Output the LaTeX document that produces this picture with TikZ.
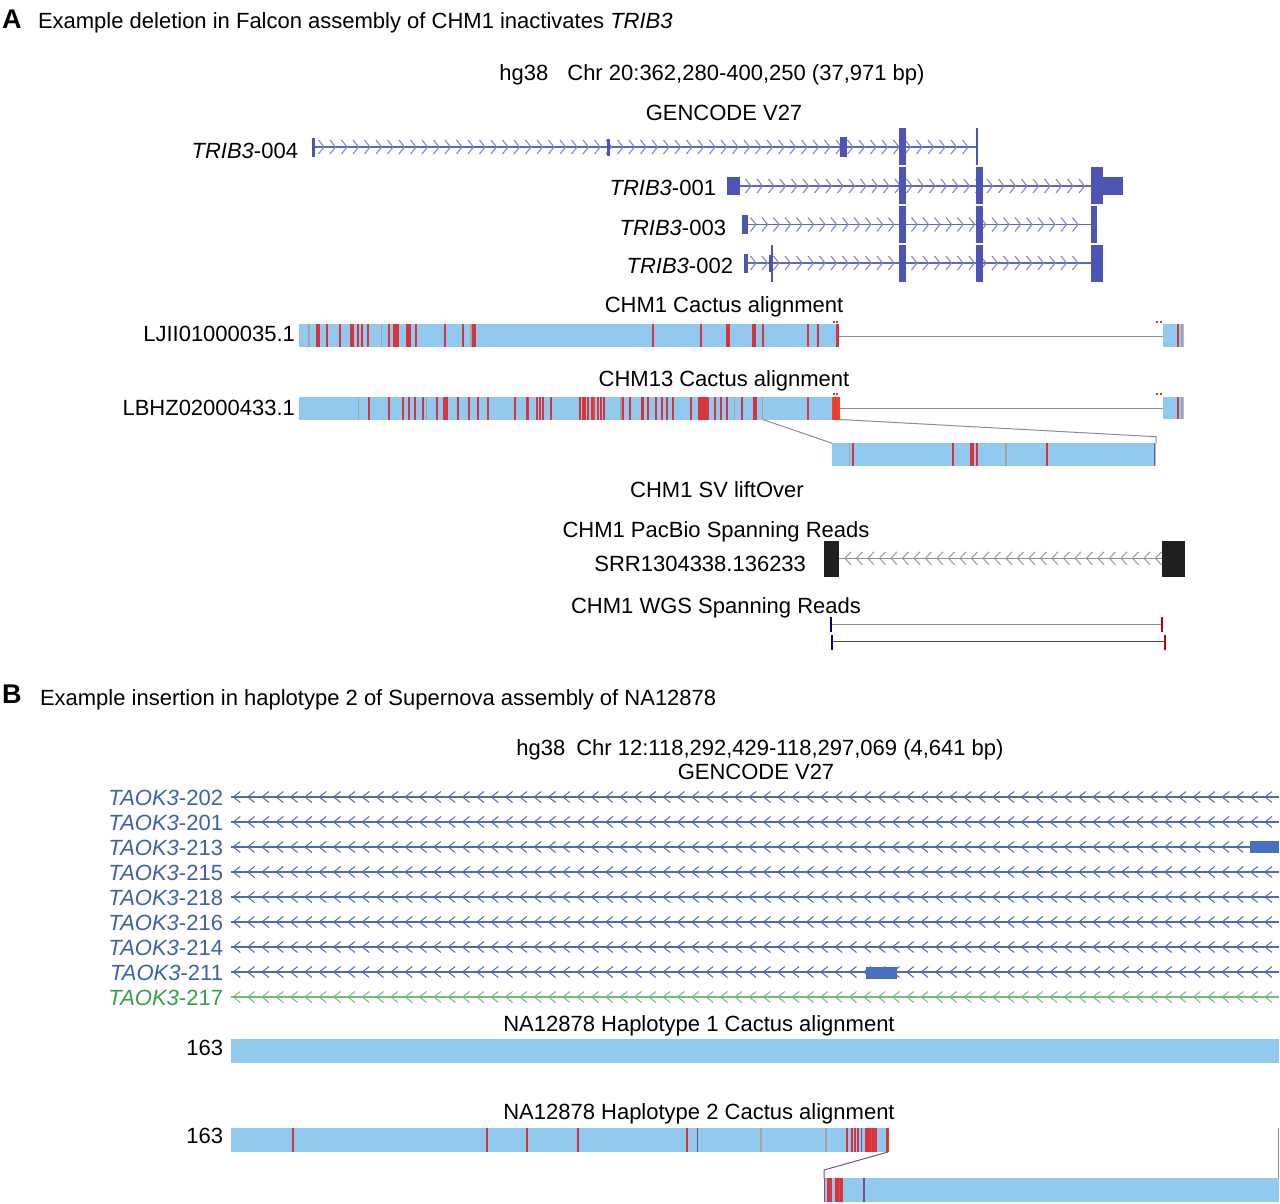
\documentclass[tikz,border=0pt]{standalone}
\usepackage{fontspec}
\setmainfont{Liberation Sans}
\definecolor{exA}{HTML}{4C55B3}
\definecolor{lnA}{HTML}{5F67BA}
\definecolor{chA}{HTML}{7F86C9}
\definecolor{txB}{HTML}{3D62AA}
\definecolor{lnB}{HTML}{4B6CB2}
\definecolor{exB}{HTML}{4670C0}
\definecolor{grB}{HTML}{33A04A}
\definecolor{grL}{HTML}{6DBE78}
\definecolor{barc}{HTML}{92C9EE}
\definecolor{redl}{HTML}{D8343F}
\definecolor{grayl}{HTML}{A8A0A0}
\definecolor{orl}{HTML}{F04028}
\definecolor{purl}{HTML}{7A4F8A}
\definecolor{conn}{HTML}{8C8C8C}
% y, x-first-tip, x-last, spacing, arm offset (+ : ">" , - : "<"), half height, style
\newcommand\chevrow[7]{%
  \pgfmathtruncatemacro\nchev{floor((#3-#2)/#4)}%
  \foreach \ii in {0,...,\nchev}{%
    \pgfmathsetmacro\cxa{#2+\ii*#4}%
    \pgfmathsetmacro\cxb{\cxa-(#5)}%
    \draw[#7] (\cxb,#1-#6) -- (\cxa,#1) -- (\cxb,#1+#6);
  }}
\begin{document}
\begin{tikzpicture}[x=1pt,y=-1pt,
  every node/.style={font=\fontsize{22}{26}\selectfont, inner sep=0pt, outer sep=0pt},
  lbl/.style={anchor=base east},
  ttl/.style={anchor=base},
  exonA/.style={fill=exA, draw=none},
  lineA/.style={draw=lnA, line width=1.2pt},
  chevA/.style={draw=chA, line width=1.1pt},
  lineB/.style={draw=lnB, line width=1.1pt},
  chevB/.style={draw=lnB, line width=1pt},
  lineG/.style={draw=grL, line width=1.1pt},
  chevG/.style={draw=grL, line width=1pt},
  barbox/.style={fill=barc, draw=none},
  redln/.style={draw=redl, line width=2pt},
  grayln/.style={draw=grayl, line width=1.5pt},
  purln/.style={draw=purl, line width=1.5pt},
  orln/.style={draw=orl, line width=2pt},
  connln/.style={draw=conn, line width=1pt}]
\useasboundingbox (0,0) rectangle (1280,1204);

% ---------------- Panel A ----------------
\node[anchor=base west] (pA) at (2,29) {\fontsize{27}{30}\selectfont\bfseries A};
\node[anchor=base west] (tA) at (38,29) {Example deletion in Falcon assembly of CHM1 inactivates \textit{TRIB3}};
\node[ttl] (posA) at (712,81) {hg38\hspace{19pt}Chr 20:362,280-400,250 (37,971 bp)};
\node[ttl] (genA) at (724,121) {GENCODE V27};

% TRIB3-004
\node[lbl] (t004) at (298,158) {\textit{TRIB3}-004};
\draw[lineA] (313,147) -- (977,147);
\chevrow{147}{324}{972}{11.5}{5.5}{7}{chevA}
\fill[exA] (312,138) rectangle (314.5,157);
\fill[exA] (606.5,139) rectangle (609.5,156);
\fill[exA] (840,137) rectangle (846.5,157);
\fill[exA] (899,128) rectangle (906,165);
\fill[exA] (975.8,128) rectangle (978.2,165);

% TRIB3-001
\node[lbl] (t001) at (716,196) {\textit{TRIB3}-001};
\draw[lineA] (740,186) -- (1091,186);
\chevrow{186}{751}{1086}{11.5}{5.5}{7}{chevA}
\fill[exA] (727,177) rectangle (740,195);
\fill[exA] (899,167) rectangle (906,204);
\fill[exA] (976,167) rectangle (983,204);
\fill[exA] (1091,167) rectangle (1103,204);
\fill[exA] (1103,177) rectangle (1123,195);

% TRIB3-003
\node[lbl] (t003) at (726,235) {\textit{TRIB3}-003};
\draw[lineA] (747,224.5) -- (1091,224.5);
\chevrow{224.5}{756}{1086}{11.5}{5.5}{7}{chevA}
\fill[exA] (741.5,215) rectangle (747.5,234);
\fill[exA] (899,206) rectangle (906,243);
\fill[exA] (976,206) rectangle (983,243);
\fill[exA] (1091,206) rectangle (1097,243);

% TRIB3-002
\node[lbl] (t002) at (733,273) {\textit{TRIB3}-002};
\draw[lineA] (747,263) -- (1091,263);
\chevrow{263}{756}{1086}{11.5}{5.5}{7}{chevA}
\fill[exA] (743.5,254) rectangle (748,273);
\fill[exA] (768.5,255) rectangle (771,272);
\fill[exA] (771,245) rectangle (773,282);
\fill[exA] (899,245) rectangle (906,282);
\fill[exA] (976,245) rectangle (983,282);
\fill[exA] (1091,245) rectangle (1103,282);

% CHM1 Cactus alignment
\node[ttl] (c1t) at (724,312) {CHM1 Cactus alignment};
\node[lbl] (c1l) at (295,341) {LJII01000035.1};
\fill[barc] (299,324) rectangle (839,346.5);
\foreach \x in {316.7,319,326.7,340,351,353.3,357.7,362.3,368.3,389,394.3,396,398.3,406.7,408.3,410,416,445,462.7,472.7,475,653.3,701,726.7,729.3,753.3,755,763.3,808.3,818.3}
  \draw[redln] (\x,324) -- (\x,346.5);
\foreach \x in {309,381.7,471}
  \draw[grayln] (\x,324) -- (\x,346.5);
\draw[redl, line width=2.4pt] (837.6,324) -- (837.6,346.5);
\fill[redl] (832.5,320.5) rectangle (834.5,322.5);
\fill[redl] (836,320.5) rectangle (838,322.5);
\draw[connln] (839,336) -- (1162.7,336);
\fill[barc] (1162.7,324.3) rectangle (1184.3,346.7);
\draw[redln] (1178.3,324.3) -- (1178.3,346.7);
\draw[grayln] (1182,324.3) -- (1182,346.7);
\fill[redl] (1156,320.5) rectangle (1158,322.5);
\fill[redl] (1159.5,320.5) rectangle (1161.5,322.5);

% CHM13 Cactus alignment
\node[ttl] (c13t) at (724,386) {CHM13 Cactus alignment};
\node[lbl] (c13l) at (295,415) {LBHZ02000433.1};
\fill[barc] (299,397) rectangle (840,419.5);
\foreach \x in {369,389,403.3,409,415,422.7,436.7,444,445.7,447.3,458.3,469,478.3,488.3,515,526.7,528.3,537.3,540,543.3,550.7,580,582.7,585.3,587.7,591.7,598.3,601,604.3,623.3,630,641.7,643.3,648.3,655.7,661.7,666.7,673.3,690.7,699.3,701,703.3,705,706.7,708.3,715,720.7,727.3,741.7,754,755.7,808.3}
  \draw[redln] (\x,397) -- (\x,419.5);
\foreach \x in {358.3,426.7,621,734.3,762.7}
  \draw[grayln] (\x,397) -- (\x,419.5);
\draw[orln] (594,397) -- (594,419.5);
\fill[orl] (832.3,396.5) rectangle (840,419.5);
\draw[redl, line width=1pt] (835.5,396.5) -- (835.5,419.5);
\fill[redl] (832.5,393) rectangle (834.5,395);
\fill[redl] (836,393) rectangle (838,395);
\draw[connln] (840,408.7) -- (1162.7,408.7);
\fill[barc] (1162.7,397.3) rectangle (1184.3,419.3);
\draw[redln] (1178.3,397.3) -- (1178.3,419.3);
\draw[grayln] (1182,397.3) -- (1182,419.3);
\fill[redl] (1156,393) rectangle (1158,395);
\fill[redl] (1159.5,393) rectangle (1161.5,395);

% liftover insert
\draw[connln] (762.7,419.5) -- (832.3,443.3);
\draw[connln] (840,419.5) -- (1156,436.7) -- (1156,443.3);
\fill[barc] (832.3,443.3) rectangle (1155.5,466);
\foreach \x in {853.3,953.3,970.7,973.3,976.7,1046.7}
  \draw[redln] (\x,443.3) -- (\x,466);
\foreach \x in {849.3,1006}
  \draw[grayln] (\x,443.3) -- (\x,466);
\draw[purln] (1154.5,443.3) -- (1154.5,466);

\node[ttl] (svt) at (717,497) {CHM1 SV liftOver};

% PacBio
\node[ttl] (pbt) at (716,537) {CHM1 PacBio Spanning Reads};
\node[lbl] (pbl) at (806,571) {SRR1304338.136233};
\draw[conn, line width=1pt] (839,558.3) -- (1162,558.3);
\chevrow{558.3}{845}{1156}{11.5}{-6}{6.5}{draw=black!40, line width=1pt}
\fill[black!88] (824,540.7) rectangle (839,576.7);
\fill[black!88] (1161.7,540.7) rectangle (1185,576.7);

% WGS
\node[ttl] (wgt) at (716,613) {CHM1 WGS Spanning Reads};
\draw[conn, line width=1pt] (831,624.3) -- (1162.3,624.3);
\draw[draw=blue!50!black, line width=2pt] (831,617) -- (831,632);
\draw[draw=red!75!black, line width=2pt] (1162.3,617) -- (1162.3,632);
\draw[black!70, line width=1pt] (832,641.7) -- (1165,641.7);
\draw[draw=blue!50!black, line width=2pt] (832,634.5) -- (832,649.5);
\draw[draw=red!75!black, line width=2pt] (1165,634.5) -- (1165,649.5);

% ---------------- Panel B ----------------
\node[anchor=base west] (pB) at (2,703) {\fontsize{27}{30}\selectfont\bfseries B};
\node[anchor=base west] (tB) at (40,705) {Example insertion in haplotype 2 of Supernova assembly of NA12878};
\node[ttl] (posB) at (760,755) {hg38\hspace{11pt}Chr 12:118,292,429-118,297,069 (4,641 bp)};
\node[ttl] (genB) at (756,779) {GENCODE V27};

\foreach \nm [count=\i from 0] in {202,201,213,215,218,216,214,211}{
  \pgfmathsetmacro\yy{797+25*\i}
  \node[lbl, text=txB] (tk\nm) at (223,\yy+8) {\textit{TAOK3}-\nm};
  \draw[lineB] (231,\yy) -- (1279,\yy);
  \chevrow{\yy}{233.3}{1266}{14.33}{-7}{5.5}{chevB}
}
\node[lbl, text=grB] (tk217) at (223,1005) {\textit{TAOK3}-217};
\draw[lineG] (231,997) -- (1279,997);
\chevrow{997}{233.3}{1266}{14.33}{-7}{5.5}{chevG}
\fill[exB] (1250,841) rectangle (1279,853.3);
\fill[exB] (866,966.5) rectangle (897.3,979);

% Haplotype 1
\node[ttl] (h1t) at (699,1031) {NA12878 Haplotype 1 Cactus alignment};
\node[lbl] (h1l) at (223,1055) {163};
\fill[barc] (231,1039) rectangle (1279,1063);

% Haplotype 2
\node[ttl] (h2t) at (699,1119) {NA12878 Haplotype 2 Cactus alignment};
\node[lbl] (h2l) at (223,1143) {163};
\fill[barc] (231,1128) rectangle (889.3,1151.7);
\foreach \x in {293.3,486.7,526.7,578.3,686.7,846.7,852.3,855,858.3}
  \draw[redln] (\x,1128) -- (\x,1151.7);
\foreach \x in {697.3,861.7}
  \draw[purln] (\x,1128) -- (\x,1151.7);
\foreach \x in {761,826}
  \draw[grayln] (\x,1128) -- (\x,1151.7);
\fill[redl] (865,1128) rectangle (877,1151.7);
\draw[orl, line width=1pt] (871,1128) -- (871,1151.7);
\fill[redl] (886,1128) rectangle (889.3,1151.7);
\draw[orl, line width=0.8pt] (888.5,1128) -- (888.5,1151.7);

\draw[draw=purl, line width=1pt] (888,1152) -- (824,1170) -- (824,1178);
\draw[connln] (1278.5,1128) -- (1278.5,1178);
\fill[barc] (824,1178) rectangle (1279,1201.7);
\draw[purln] (824.5,1178) -- (824.5,1201.7);
\fill[redl] (826.7,1178) rectangle (831.7,1201.7);
\fill[redl] (835,1178) rectangle (843.3,1201.7);
\draw[orl, line width=1pt] (839.5,1178) -- (839.5,1201.7);
\draw[purln] (864,1178) -- (864,1201.7);
\end{tikzpicture}
\end{document}
